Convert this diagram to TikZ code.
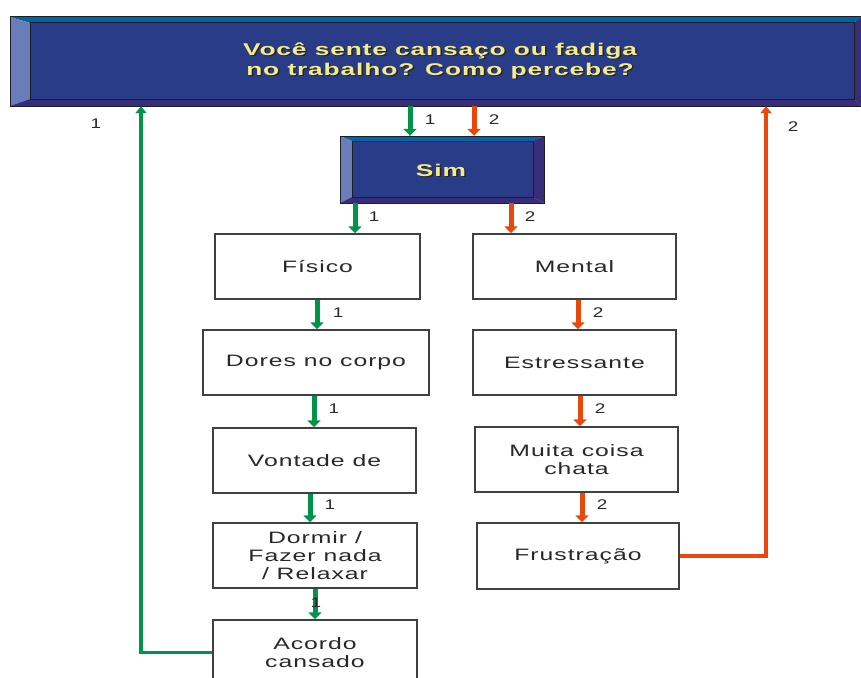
\documentclass[tikz,border=0pt]{standalone}
\usepackage{fontspec}
\setmainfont{Liberation Sans}
\newfontfamily\boxfont[FakeStretch=1.5,LetterSpace=6]{Liberation Sans}
\newfontfamily\labfont[FakeStretch=1.35,LetterSpace=10]{Liberation Sans}
\newfontfamily\ttlfont[FakeStretch=1.55,LetterSpace=5]{Liberation Sans}
\usetikzlibrary{arrows.meta}
\definecolor{gr}{RGB}{0,148,72}
\definecolor{rd}{RGB}{232,72,12}
\definecolor{boxline}{RGB}{64,64,64}
\definecolor{txt}{RGB}{40,40,40}
\definecolor{bvtop}{RGB}{0,100,165}
\definecolor{bvleft}{RGB}{105,125,185}
\definecolor{bvbot}{RGB}{55,45,120}
\definecolor{bvin}{RGB}{40,60,135}
\definecolor{bvline}{RGB}{30,30,40}
\definecolor{ttl}{RGB}{245,235,140}
\newcommand\bevbox[8]{%
 \fill[bvtop] (#1,#2) -- (#3,#2) -- (#7,#6) -- (#5,#6) -- cycle;
 \fill[bvleft] (#1,#2) -- (#5,#6) -- (#5,#8) -- (#1,#4) -- cycle;
 \fill[bvbot] (#1,#4) -- (#5,#8) -- (#7,#8) -- (#3,#4) -- cycle;
 \fill[bvbot] (#3,#2) -- (#7,#6) -- (#7,#8) -- (#3,#4) -- cycle;
 \draw[fill=bvin,draw=bvline,line width=1pt] (#5,#6) rectangle (#7,#8);
 \draw[draw=bvline,line width=1pt] (#1,#2) rectangle (#3,#4);
}
\begin{document}
\begin{tikzpicture}[x=1pt,y=-1pt,
  wbox/.style={draw=boxline,line width=1.5pt,fill=white,minimum width=#1,minimum height=65pt,
    inner sep=0pt,align=center,text=txt,font=\boxfont\fontsize{16.5}{18}\selectfont},
  wbox/.default=203pt,
  ttltext/.style={align=center,inner sep=0pt,font=\ttlfont\bfseries\fontsize{17}{20}\selectfont},
  garr/.style={draw=gr,line width=5pt,-{Triangle[length=7pt,width=13pt]}},
  rarr/.style={draw=rd,line width=5pt,-{Triangle[length=7pt,width=13pt]}},
  gret/.style={draw=gr,line width=3.2pt,-{Triangle[length=7pt,width=11pt]}},
  rret/.style={draw=rd,line width=3.2pt,-{Triangle[length=7pt,width=11pt]}},
  lab/.style={font=\labfont\fontsize{14}{16}\selectfont,text=txt,inner sep=0pt}
]
\useasboundingbox (0,0) rectangle (861,677);

% title box
\bevbox{10}{17}{861}{106}{30}{23}{854}{99}
\node[minimum width=851pt,minimum height=89pt,inner sep=0pt] (Q) at (435.5,61.5) {};
\node[ttltext,text=black!85] (Qs) at (441.5,62) {Você sente cansaço ou fadiga\\no trabalho? Como percebe?};
\node[ttltext,text=ttl] (Qt) at (440,60.5) {Você sente cansaço ou fadiga\\no trabalho? Como percebe?};

% Sim box
\bevbox{340}{136}{544}{203}{352}{141}{533}{197}
\node[minimum width=204pt,minimum height=67pt,inner sep=0pt] (S) at (442,169.5) {};
\node[ttltext,text=black!85] (Ss) at (442.5,171.5) {Sim};
\node[ttltext,text=ttl] (St) at (441,170) {Sim};

% white boxes
\node[wbox=205pt] (F) at (317.5,266.5) {Físico};
\node[wbox=203pt] (M) at (574.5,266.5) {Mental};
\node[wbox=226pt] (D) at (316,362.5) {Dores no corpo};
\node[wbox=203pt] (E) at (574.5,362.5) {Estressante};
\node[wbox=203pt] (V) at (314.5,460.5) {Vontade de};
\node[wbox=203pt] (C) at (576.5,459.5) {Muita coisa\\chata};
\node[wbox=204pt] (R) at (315,555.5) {Dormir /\\Fazer nada\\/ Relaxar};
\node[wbox=202pt,minimum height=66pt] (Fr) at (578,556) {Frustração};
\node[wbox=204pt] (A) at (315,652.5) {Acordo\\cansado};

% arrows
\draw[garr] (Q.south -| 410,0) -- (S.north -| 410,0);
\draw[rarr] (Q.south -| 474,0) -- (S.north -| 474,0);
\draw[garr] (S.south -| 355,0) -- (F.north -| 355,0);
\draw[rarr] (S.south -| 511,0) -- (M.north -| 511,0);
\draw[garr] (F.south -| 317,0) -- (D.north -| 317,0);
\draw[rarr] (M.south -| 578,0) -- (E.north -| 578,0);
\draw[garr] (D.south -| 314,0) -- (V.north -| 314,0);
\draw[rarr] (E.south -| 580,0) -- (C.north -| 580,0);
\draw[garr] (V.south -| 310,0) -- (R.north -| 310,0);
\draw[rarr] (C.south -| 582,0) -- (Fr.north -| 582,0);
\draw[garr] (R.south -| 315,0) -- (A.north -| 315,0);
\draw[rret] (Fr.east) -| (Q.south -| 766,0);
\draw[gret] (A.west) -| (Q.south -| 141,0);

% labels
\node[lab] (l0) at (96,124) {1};
\node[lab] (l0b) at (793,127) {2};
\node[lab] (l1) at (430,120) {1};
\node[lab] (l1b) at (494,120) {2};
\node[lab] (l2) at (374,217) {1};
\node[lab] (l2b) at (530,217) {2};
\node[lab] (l3) at (338,313) {1};
\node[lab] (l3b) at (598,313) {2};
\node[lab] (l4) at (334,409) {1};
\node[lab] (l4b) at (600,409) {2};
\node[lab] (l5) at (330,505) {1};
\node[lab] (l5b) at (602,505) {2};
\node[lab] (l6) at (316,603) {1};
\end{tikzpicture}
\end{document}
